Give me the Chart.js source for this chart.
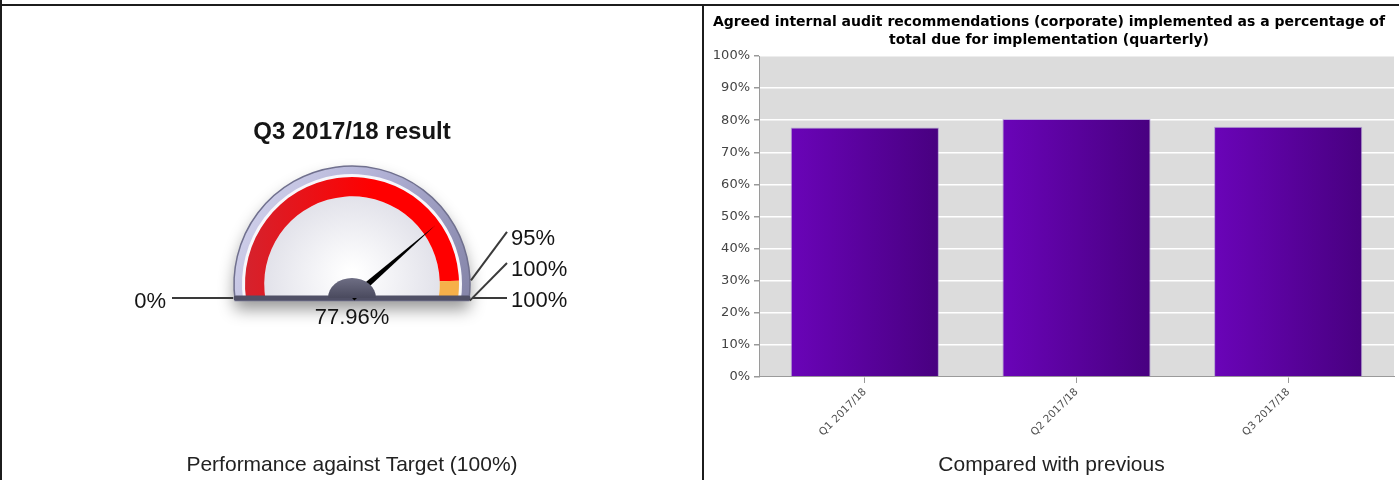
<!DOCTYPE html>
<html>
<head>
<meta charset="utf-8">
<title>Internal audit recommendations</title>
<script src="https://cdn.jsdelivr.net/npm/chart.js@4.4.0/dist/chart.umd.min.js"></script>
<style>
    html, body { margin: 0; padding: 0; background: #fff; }
    body { width: 1399px; height: 480px; position: relative; overflow: hidden;
           font-family: "Liberation Sans", Arial, sans-serif; }
    .rule { position: absolute; background: #1c1c1c; }
    #gaugeBox { position: absolute; left: 2px; top: 6px; width: 700px; height: 474px; }
    #barBox { position: absolute; left: 704px; top: 6px; width: 695px; height: 440px; }
    #gaugeTitle { position: absolute; left: 2px; width: 700px; top: 117px; text-align: center;
                  font-weight: bold; font-size: 24px; color: #151515; }
    .caption { position: absolute; top: 452px; font-size: 21px; color: #222; text-align: center; }
</style>
</head>
<body>
<div class="rule" style="left:0;top:4px;width:1399px;height:2px"></div>
<div class="rule" style="left:0;top:0;width:2px;height:480px"></div>
<div class="rule" style="left:702px;top:5px;width:2px;height:475px"></div>

<div id="gaugeBox"><canvas id="gaugeChart"></canvas></div>
<div id="gaugeTitle">Q3 2017/18 result</div>
<div class="caption" style="left:2px;width:700px">Performance against Target (100%)</div>

<div id="barBox"><canvas id="barChart"></canvas></div>
<div class="caption" style="left:704px;width:695px">Compared with previous</div>

<script>
// gauge: latest quarter against target
var gaugeValue = 77.96;
var gaugeBands = [95, 5];                 // red to 95%, amber 95-100%
var gaugeBandColors = ['#ee1111', '#f6b04a'];
var gaugeMarkers = [95, 100, 100];        // right hand labels
var gaugeMin = 0;

// bar chart: quarterly results
var quarters = ['Q1 2017/18', 'Q2 2017/18', 'Q3 2017/18'];
var implementedPct = [77.7, 80.4, 77.96];
var barTitle = ['Agreed internal audit recommendations (corporate) implemented as a percentage of',
                'total due for implementation (quarterly)'];

var verdanaLike = '"DejaVu Sans", Verdana, sans-serif';
var labelFont = '22px "Liberation Sans", Arial, sans-serif';

// ---- gauge dressing (bezel, needle, hub, labels) ----
var gaugeDressing = {
    id: 'gaugeDressing',
    beforeDatasetsDraw: function (chart) {
        var arcs = chart.getDatasetMeta(0).data;
        var a = arcs[0];
        var x = a.x, y = a.y, R = a.outerRadius, r = a.innerRadius;
        var start = a.startAngle, end = arcs[arcs.length - 1].endAngle;
        var rimR = R + 11;
        var ctx = chart.ctx;
        ctx.save();
        // outer bezel with drop shadow
        ctx.shadowColor = 'rgba(0,0,0,0.4)';
        ctx.shadowBlur = 16;
        ctx.shadowOffsetY = 9;
        ctx.beginPath();
        ctx.arc(x, y, rimR, start, end);
        ctx.closePath();
        var g = ctx.createLinearGradient(x - rimR, y - rimR, x + rimR, y);
        g.addColorStop(0, '#d8d8f0');
        g.addColorStop(0.5, '#b2b2d6');
        g.addColorStop(1, '#8686aa');
        ctx.fillStyle = g;
        ctx.fill();
        ctx.shadowColor = 'transparent';
        ctx.lineWidth = 1.5;
        ctx.strokeStyle = '#70708e';
        ctx.stroke();
        // white inner ring
        ctx.beginPath();
        ctx.arc(x, y, R + 3, start, end);
        ctx.closePath();
        ctx.fillStyle = '#f7f7fb';
        ctx.fill();
        // face
        ctx.beginPath();
        ctx.arc(x, y, r, start, end);
        ctx.closePath();
        var f = ctx.createRadialGradient(x, y - 10, 5, x, y, r);
        f.addColorStop(0, '#ffffff');
        f.addColorStop(1, '#e2e2ea');
        ctx.fillStyle = f;
        ctx.fill();
        ctx.restore();
    },
    afterDatasetsDraw: function (chart) {
        var arcs = chart.getDatasetMeta(0).data;
        var a = arcs[0];
        var x = a.x, y = a.y, R = a.outerRadius, r = a.innerRadius;
        var start = a.startAngle, end = arcs[arcs.length - 1].endAngle;
        var rimR = R + 11;
        var baseY = y + R * Math.sin(end) - 1;
        var total = gaugeBands.reduce(function (s, v) { return s + v; }, 0);
        var angleOf = function (v) { return start + (v - gaugeMin) / (total - gaugeMin) * (end - start); };
        var ctx = chart.ctx;
        ctx.save();

        // base bar
        ctx.lineCap = 'round';
        ctx.strokeStyle = '#505066';
        ctx.lineWidth = 5;
        ctx.beginPath();
        ctx.moveTo(x - rimR + 2, baseY);
        ctx.lineTo(x + rimR - 2, baseY);
        ctx.stroke();

        // needle
        var va = angleOf(gaugeValue);
        var tipX = x + (r + 14) * Math.cos(va), tipY = y + (r + 14) * Math.sin(va);
        var dir = Math.atan2(tipY - baseY, tipX - x);
        var nx = Math.cos(dir + Math.PI / 2) * 3.5, ny = Math.sin(dir + Math.PI / 2) * 3.5;
        ctx.fillStyle = '#000';
        ctx.beginPath();
        ctx.moveTo(x + nx, baseY + ny);
        ctx.lineTo(tipX, tipY);
        ctx.lineTo(x - nx, baseY - ny);
        ctx.closePath();
        ctx.fill();

        // hub
        var hg = ctx.createLinearGradient(0, baseY - 20, 0, baseY);
        hg.addColorStop(0, '#6e6e84');
        hg.addColorStop(1, '#4a4a5e');
        ctx.fillStyle = hg;
        ctx.beginPath();
        ctx.ellipse(x, baseY, 24, 20, 0, Math.PI, 2 * Math.PI);
        ctx.closePath();
        ctx.fill();

        // leader lines
        ctx.lineCap = 'butt';
        ctx.strokeStyle = '#3a3a3a';
        ctx.lineWidth = 2;
        ctx.beginPath();
        ctx.moveTo(x - rimR - 1, baseY);
        ctx.lineTo(x - rimR - 62, baseY);
        ctx.stroke();

        ctx.font = labelFont;
        ctx.fillStyle = '#141414';
        ctx.textBaseline = 'middle';
        ctx.textAlign = 'right';
        ctx.fillText(gaugeMin + '%', x - rimR - 68, baseY + 4);

        ctx.textAlign = 'left';
        gaugeMarkers.forEach(function (v, i) {
            var ly = baseY + 3 - (gaugeMarkers.length - 1 - i) * 31;
            ctx.beginPath();
            if (i < gaugeMarkers.length - 1) {
                var ang = angleOf(v);
                ctx.moveTo(x + (rimR + 1) * Math.cos(ang), y + (rimR + 1) * Math.sin(ang));
                ctx.lineTo(x + 155, ly - 7);
            } else {
                ctx.moveTo(x + rimR + 2, baseY);
                ctx.lineTo(x + 155, baseY);
            }
            ctx.stroke();
            ctx.fillText(v + '%', x + 159, ly);
        });

        // value label
        ctx.textAlign = 'center';
        ctx.fillText(gaugeValue.toFixed(2) + '%', x, baseY + 20);
        ctx.restore();
    }
};

new Chart(document.getElementById('gaugeChart'), {
    type: 'doughnut',
    data: {
        labels: ['Below target', 'Near target'],
        datasets: [{
            data: gaugeBands,
            backgroundColor: function (c) {
                if (c.dataIndex !== 0) return gaugeBandColors[c.dataIndex];
                var area = c.chart.chartArea;
                if (!area) return gaugeBandColors[0];
                var cx = (area.left + area.right) / 2;
                var g = c.chart.ctx.createLinearGradient(cx - 110, 0, cx + 110, 0);
                g.addColorStop(0, '#d4232e');
                g.addColorStop(0.6, '#ff0000');
                g.addColorStop(1, '#ff0000');
                return g;
            },
            borderWidth: 0
        }]
    },
    options: {
        responsive: true,
        maintainAspectRatio: false,
        animation: false,
        rotation: -98,
        circumference: 196,
        cutout: '82%',
        radius: 107,
        layout: { padding: { bottom: 10 } },
        plugins: { legend: { display: false }, tooltip: { enabled: false } }
    },
    plugins: [gaugeDressing]
});

// ---- bar chart ----
var plotBackground = {
    id: 'plotBackground',
    beforeDraw: function (chart) {
        var a = chart.chartArea;
        chart.ctx.save();
        chart.ctx.fillStyle = '#dcdcdc';
        chart.ctx.fillRect(a.left, a.top, a.right - a.left, a.bottom - a.top);
        chart.ctx.restore();
    }
};

new Chart(document.getElementById('barChart'), {
    type: 'bar',
    data: {
        labels: quarters,
        datasets: [{
            data: implementedPct,
            backgroundColor: function (c) {
                var xs = c.chart.scales.x;
                if (!xs || c.dataIndex === undefined) return '#5a00a0';
                var cx = xs.getPixelForValue(c.dataIndex);
                var half = xs.width / quarters.length * 0.7 / 2;
                if (!isFinite(cx) || !isFinite(half) || half <= 0) return '#5a00a0';
                var g = c.chart.ctx.createLinearGradient(cx - half, 0, cx + half, 0);
                g.addColorStop(0, '#6a04b8');
                g.addColorStop(1, '#480080');
                return g;
            },
            borderColor: 'rgba(150,120,200,0.6)',
            borderWidth: 1,
            barPercentage: 0.7,
            categoryPercentage: 1
        }]
    },
    options: {
        responsive: true,
        maintainAspectRatio: false,
        animation: false,
        layout: { padding: { left: 0, right: 5, top: 0, bottom: 0 } },
        plugins: {
            legend: { display: false },
            tooltip: { enabled: false },
            title: {
                display: true,
                text: barTitle,
                color: '#000',
                font: { family: verdanaLike, size: 14, weight: 'bold', lineHeight: 1.286 },
                padding: { top: 7, bottom: 7 }
            }
        },
        scales: {
            x: {
                grid: { offset: false, drawOnChartArea: false, tickLength: 6, tickColor: '#999' },
                border: { color: '#9a9a9a' },
                ticks: {
                    minRotation: 45, maxRotation: 45, color: '#505050', padding: 3,
                    font: { family: verdanaLike, size: 10.5 }
                },
                afterFit: function (s) { s.height = 69; }
            },
            y: {
                min: 0,
                max: 100,
                ticks: {
                    stepSize: 10, color: '#444', padding: 4,
                    font: { family: verdanaLike, size: 13 },
                    callback: function (v) { return v + '%'; }
                },
                grid: { color: '#ffffff', lineWidth: 1.5, tickLength: 5, tickColor: '#999' },
                border: { color: '#9a9a9a' },
                afterFit: function (s) { s.width = 55; }
            }
        }
    },
    plugins: [plotBackground]
});
</script>
</body>
</html>
